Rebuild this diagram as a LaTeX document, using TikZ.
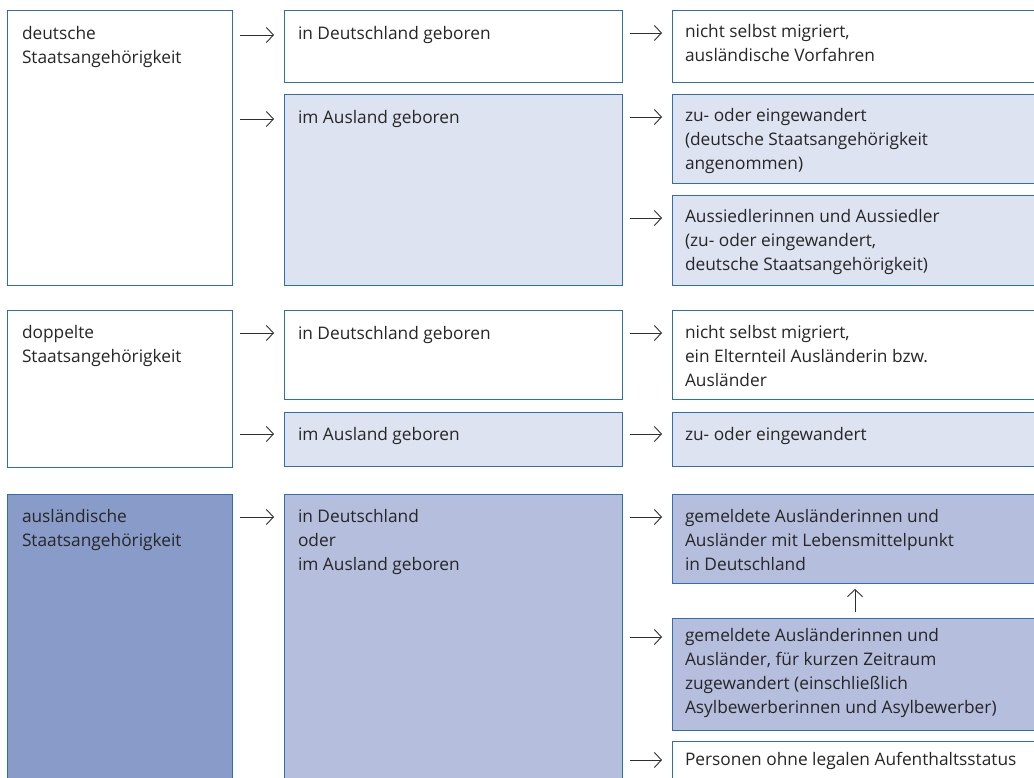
\documentclass[tikz,border=0pt]{standalone}
\usepackage{fontspec}
\setmainfont{Open Sans}
\usetikzlibrary{arrows.meta}
\definecolor{bordc}{HTML}{2F6DB5}
\definecolor{lightf}{HTML}{DEE3F1}
\definecolor{medf}{HTML}{B5BEDD}
\definecolor{darkf}{HTML}{899BC8}
\definecolor{txtc}{HTML}{262626}
\definecolor{arrc}{HTML}{2E2E2E}
\tikzset{
  box/.style={draw=bordc, line width=1pt, anchor=north west, inner sep=0pt, outer sep=0pt},
  txt/.style={anchor=north west, inner sep=0pt, outer sep=0pt, align=left, text=txtc,
    font=\fontsize{17.3}{24}\selectfont, execute at begin node={\rule{0pt}{14pt}}},
  arr/.style={draw=arrc, line width=0.9pt, -{Straight Barb[length=7pt,width=15pt,line width=0.9pt]},
    shorten <=8pt, shorten >=10pt}
}
\begin{document}
\begin{tikzpicture}[x=1pt,y=-1pt]
\useasboundingbox (0,0) rectangle (1034,778);
\clip (0,0) rectangle (1034,778);
% row 1
\node[box, fill=white, minimum width=225pt, minimum height=275pt] (b1) at (7,11) {};
\node[box, fill=white, minimum width=338pt, minimum height=72pt] (b2) at (284,11) {};
\node[box, fill=lightf, minimum width=338pt, minimum height=191pt] (b3) at (284,95) {};
\node[box, fill=white, minimum width=380pt, minimum height=72pt] (c1) at (672,11) {};
\node[box, fill=lightf, minimum width=380pt, minimum height=89pt] (c2) at (672,95) {};
\node[box, fill=lightf, minimum width=380pt, minimum height=90pt] (c3) at (672,196) {};
% row 2
\node[box, fill=white, minimum width=225pt, minimum height=157pt] (d1) at (7,310) {};
\node[box, fill=white, minimum width=338pt, minimum height=89pt] (e1) at (284,310) {};
\node[box, fill=lightf, minimum width=338pt, minimum height=54pt] (e2) at (284,412) {};
\node[box, fill=white, minimum width=380pt, minimum height=89pt] (f1) at (672,310) {};
\node[box, fill=lightf, minimum width=380pt, minimum height=54pt] (f2) at (672,412) {};
% row 3
\node[box, fill=darkf, minimum width=225pt, minimum height=300pt] (g1) at (7,494) {};
\node[box, fill=medf, minimum width=338pt, minimum height=300pt] (h1) at (284,494) {};
\node[box, fill=medf, minimum width=380pt, minimum height=89pt] (k1) at (672,494) {};
\node[box, fill=medf, minimum width=380pt, minimum height=112pt] (k2) at (672,618) {};
\node[box, fill=white, minimum width=380pt, minimum height=60pt] (k3) at (672,741) {};

% arrow rows
\coordinate (y1) at (0,35);
\coordinate (y2) at (0,119);
\coordinate (z1) at (0,33);
\coordinate (z2) at (0,117);
\coordinate (z3) at (0,218);
\coordinate (y3) at (0,333);
\coordinate (y4) at (0,434);
\coordinate (y5) at (0,517);
\coordinate (z6) at (0,637);
\coordinate (z7) at (0,760);

% texts
\node[txt] (tb1) at (22,26) {deutsche\\Staatsangehörigkeit};
\node[txt] (tb2) at (298,26) {in Deutschland geboren};
\node[txt] (tb3) at (298,110) {im Ausland geboren};
\node[txt] (tc1) at (685,24) {nicht selbst migriert,\\ausländische Vorfahren};
\node[txt] (tc2) at (685,108) {zu- oder eingewandert\\(deutsche Staatsangehörigkeit\\angenommen)};
\node[txt] (tc3) at (685,209) {Aussiedlerinnen und Aussiedler\\(zu- oder eingewandert,\\deutsche Staatsangehörigkeit)};
\node[txt] (td1) at (22,325) {doppelte\\Staatsangehörigkeit};
\node[txt] (te1) at (298,325) {in Deutschland geboren};
\node[txt] (te2) at (298,426) {im Ausland geboren};
\node[txt] (tf1) at (685,325) {nicht selbst migriert,\\ein Elternteil Ausländerin bzw.\\Ausländer};
\node[txt] (tf2) at (685,426) {zu- oder eingewandert};
\node[txt] (tg1) at (22,509) {ausländische\\Staatsangehörigkeit};
\node[txt] (th1) at (298,509) {in Deutschland\\oder\\im Ausland geboren};
\node[txt] (tk1) at (685,509) {gemeldete Ausländerinnen und\\Ausländer mit Lebensmittelpunkt\\in Deutschland};
\node[txt] (tk2) at (685,628) {gemeldete Ausländerinnen und\\Ausländer, für kurzen Zeitraum\\zugewandert (einschließlich\\Asylbewerberinnen und Asylbewerber)};
\node[txt] (tk3) at (685,751) {Personen ohne legalen Aufenthaltsstatus};

% connectors
\draw[arr] (b1.east |- y1) -- (b2.west |- y1);
\draw[arr] (b1.east |- y2) -- (b3.west |- y2);
\draw[arr] (b2.east |- z1) -- (c1.west |- z1);
\draw[arr] (b3.east |- z2) -- (c2.west |- z2);
\draw[arr] (b3.east |- z3) -- (c3.west |- z3);
\draw[arr] (d1.east |- y3) -- (e1.west |- y3);
\draw[arr] (d1.east |- y4) -- (e2.west |- y4);
\draw[arr] (e1.east |- y3) -- (f1.west |- y3);
\draw[arr] (e2.east |- y4) -- (f2.west |- y4);
\draw[arr] (g1.east |- y5) -- (h1.west |- y5);
\draw[arr] (h1.east |- y5) -- (k1.west |- y5);
\draw[arr] (h1.east |- z6) -- (k2.west |- z6);
\draw[arr] (h1.east |- z7) -- (k3.west |- z7);
\coordinate (ux) at (855,0);
\draw[arr, shorten <=6pt, shorten >=6pt] (k2.north -| ux) -- (k1.south -| ux);
\end{tikzpicture}
\end{document}
